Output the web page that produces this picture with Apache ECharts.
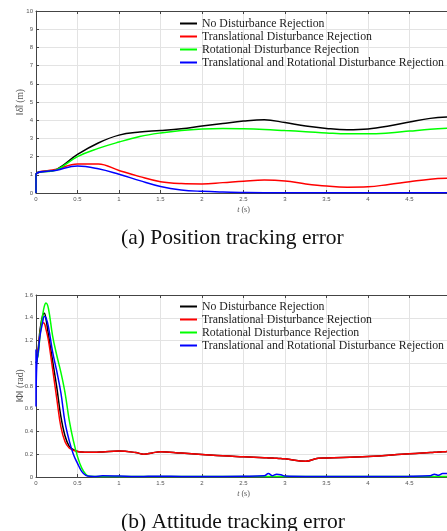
<!DOCTYPE html>
<html>
<head>
<meta charset="utf-8">
<script src="https://cdn.jsdelivr.net/npm/echarts@6/dist/echarts.min.js"></script>
<style>
  html, body { margin: 0; padding: 0; background: #fff; }
  #chart-container { width: 447px; height: 531px; }
</style>
</head>
<body>
<div id="chart-container"></div>
<script>
// series names (legend)
const names = [
    "No Disturbance Rejection",
    "Translational Disturbance Rejection",
    "Rotational Disturbance Rejection",
    "Translational and Rotational Disturbance Rejection",
];
const colors = ["#000000", "#ff0000", "#00ff00", "#0000ff"];

// (a) position tracking error
const posTime = [0, 0, 0.25, 0.5, 0.75, 1, 1.25, 1.5, 1.75, 2, 2.25, 2.5, 2.75, 3, 3.25, 3.5, 3.75, 4, 4.25, 4.5, 4.75, 5];
const posNone = [0, 1.0, 1.3, 2.12, 2.75, 3.18, 3.35, 3.43, 3.53, 3.68, 3.82, 3.95, 4.02, 3.87, 3.68, 3.55, 3.48, 3.52, 3.68, 3.9, 4.1, 4.18];
const posTrans = [0, 1.0, 1.3, 1.6, 1.6, 1.24, 0.9, 0.62, 0.52, 0.5, 0.57, 0.65, 0.71, 0.66, 0.5, 0.38, 0.32, 0.34, 0.47, 0.62, 0.76, 0.81];
const posRot = [0, 1.0, 1.28, 2.0, 2.45, 2.8, 3.1, 3.3, 3.44, 3.52, 3.55, 3.53, 3.49, 3.43, 3.37, 3.3, 3.25, 3.25, 3.3, 3.4, 3.5, 3.57];
const posBoth = [0, 1.0, 1.25, 1.48, 1.33, 1.03, 0.68, 0.36, 0.17, 0.09, 0.05, 0.03, 0.02, 0.02, 0.02, 0.02, 0.02, 0.02, 0.02, 0.02, 0.02, 0.02];

// (b) attitude tracking error
const attTime = [0, 0, 0.01, 0.03, 0.05, 0.08, 0.1, 0.12, 0.15, 0.2, 0.25, 0.3, 0.35, 0.4, 0.45, 0.5, 0.55, 0.6, 0.65, 0.7, 0.8, 1.0, 1.2, 1.3, 1.4, 1.5, 1.75, 2.0, 2.25, 2.5, 2.75, 2.8, 2.85, 2.9, 2.95, 3.0, 3.25, 3.4, 3.5, 4.0, 4.5, 4.75, 4.8, 4.85, 4.9, 5.0];
const attNone = [1.0, 1.0, 1.02, 1.15, 1.3, 1.42, 1.44, 1.39, 1.25, 1.02, 0.79, 0.53, 0.36, 0.27, 0.24, 0.225, 0.22, 0.218, 0.217, 0.217, 0.22, 0.228, 0.215, 0.2, 0.212, 0.222, 0.21, 0.198, 0.186, 0.178, 0.17, 0.168, 0.166, 0.164, 0.162, 0.16, 0.138, 0.165, 0.168, 0.18, 0.205, 0.215, 0.217, 0.219, 0.221, 0.226];
const attTrans = [1.0, 1.0, 1.02, 1.13, 1.27, 1.355, 1.35, 1.3, 1.2, 0.95, 0.69, 0.44, 0.31, 0.255, 0.235, 0.225, 0.22, 0.218, 0.217, 0.217, 0.22, 0.228, 0.215, 0.2, 0.212, 0.222, 0.21, 0.198, 0.186, 0.178, 0.17, 0.168, 0.166, 0.164, 0.162, 0.16, 0.138, 0.165, 0.168, 0.18, 0.205, 0.215, 0.217, 0.219, 0.221, 0.226];
const attRot = [1.0, 1.0, 1.02, 1.1, 1.26, 1.42, 1.5, 1.53, 1.48, 1.24, 1.07, 0.92, 0.74, 0.5, 0.32, 0.18, 0.08, 0.025, 0.006, 0.005, 0.005, 0.005, 0.005, 0.005, 0.005, 0.005, 0.005, 0.005, 0.005, 0.005, 0.005, 0.005, 0.005, 0.005, 0.005, 0.005, 0.005, 0.005, 0.005, 0.005, 0.005, 0.005, 0.005, 0.005, 0.005, 0.005];
const attBoth = [1.12, 0.62, 1.0, 1.12, 1.25, 1.36, 1.41, 1.4, 1.32, 1.1, 0.93, 0.74, 0.48, 0.32, 0.2, 0.12, 0.05, 0.015, 0.006, 0.005, 0.01, 0.008, 0.005, 0.005, 0.006, 0.006, 0.005, 0.005, 0.005, 0.006, 0.01, 0.03, 0.012, 0.025, 0.02, 0.008, 0.005, 0.005, 0.005, 0.005, 0.006, 0.01, 0.025, 0.015, 0.03, 0.03];

const captions = ["(a) Position tracking error", "(b) Attitude tracking error"];

let dom = document.getElementById("chart-container");
let myChart = echarts.init(dom, null, { renderer: "canvas" });

function pairs(ts, vs) {
    return ts.map((t, i) => [t, vs[i]]);
}

const tickFont = { fontFamily: "Liberation Sans", fontSize: 6, color: "#555" };

function bottomX(gridIndex) {
    return {
        type: "value", gridIndex: gridIndex, min: 0, max: 5, interval: 0.5,
        name: "{i|t} (s)", nameLocation: "middle", nameGap: 13, nameMoveOverlap: false,
        nameTextStyle: {
            fontFamily: "Liberation Serif", fontSize: 8, color: "#555",
            rich: { i: { fontFamily: "Liberation Serif", fontStyle: "italic", fontSize: 8, color: "#555" } },
        },
        axisLine: { lineStyle: { color: "#444", width: 1 } },
        axisTick: { inside: true, length: 3, lineStyle: { color: "#444" } },
        axisLabel: Object.assign({ margin: 3 }, tickFont),
        splitLine: { show: true, lineStyle: { color: "#e3e3e3", width: 1 } },
    };
}

function topX(gridIndex) {
    return {
        type: "value", gridIndex: gridIndex, position: "top", min: 0, max: 5, interval: 0.5,
        axisLine: { show: true, lineStyle: { color: "#444", width: 1 } },
        axisTick: { show: true, inside: true, length: 3, lineStyle: { color: "#444" } },
        axisLabel: { show: false },
        splitLine: { show: false },
    };
}

function leftY(gridIndex, max, interval, name) {
    return {
        type: "value", gridIndex: gridIndex, min: 0, max: max, interval: interval,
        name: name, nameLocation: "middle", nameGap: 11, nameMoveOverlap: false,
        nameTextStyle: { fontFamily: "Liberation Serif", fontSize: 9.5, color: "#555" },
        axisLine: { show: true, lineStyle: { color: "#444", width: 1 } },
        axisTick: { show: true, inside: true, length: 3, lineStyle: { color: "#444" } },
        axisLabel: Object.assign({ margin: 3 }, tickFont),
        splitLine: { show: true, lineStyle: { color: "#e3e3e3", width: 1 } },
    };
}

function legendAt(top) {
    return {
        data: names, orient: "vertical", left: 180, top: top, padding: 0,
        itemWidth: 17, itemHeight: 2, itemGap: 0,
        icon: "rect",
        textStyle: { fontFamily: "Liberation Serif", fontSize: 11.8, lineHeight: 13, color: "#222" },
        selectedMode: false,
    };
}

const posData = [posNone, posTrans, posRot, posBoth];
const attData = [attNone, attTrans, attRot, attBoth];

let series = [];
posData.forEach((vals, i) => {
    series.push({
        name: names[i], type: "line", xAxisIndex: 0, yAxisIndex: 0,
        data: pairs(posTime, vals), symbol: "none", smooth: 0.4,
        lineStyle: { color: colors[i], width: 1.5 }, itemStyle: { color: colors[i] },
    });
});
attData.forEach((vals, i) => {
    series.push({
        name: names[i], type: "line", xAxisIndex: 2, yAxisIndex: 1,
        data: pairs(attTime, vals), symbol: "none", smooth: 0.4,
        lineStyle: { color: colors[i], width: 1.5 }, itemStyle: { color: colors[i] },
    });
});

let option = {
    backgroundColor: "#fff",
    animation: false,
    title: [
        { text: captions[0], left: 121, top: 227, padding: 0,
          textStyle: { fontFamily: "Liberation Serif", fontSize: 21.5, fontWeight: "normal", color: "#111" } },
        { text: captions[1], left: 121, top: 511, padding: 0,
          textStyle: { fontFamily: "Liberation Serif", fontSize: 21.5, fontWeight: "normal", color: "#111" } },
    ],
    legend: [legendAt(17), legendAt(300)],
    grid: [
        { left: 36, top: 11, width: 415, height: 182, outerBoundsMode: "none" },
        { left: 36, top: 295, width: 415, height: 182, outerBoundsMode: "none" },
    ],
    xAxis: [bottomX(0), topX(0), bottomX(1), topX(1)],
    yAxis: [
        leftY(0, 10, 1, "\u2016\u03b4\u0303\u2016 (m)"),
        leftY(1, 1.6, 0.2, "\u2016\u03a6\u2016 (rad)"),
    ],
    series: series,
};

if (option && typeof option === "object") {
    myChart.setOption(option);
}

window.addEventListener("resize", myChart.resize);
</script>
</body>
</html>
